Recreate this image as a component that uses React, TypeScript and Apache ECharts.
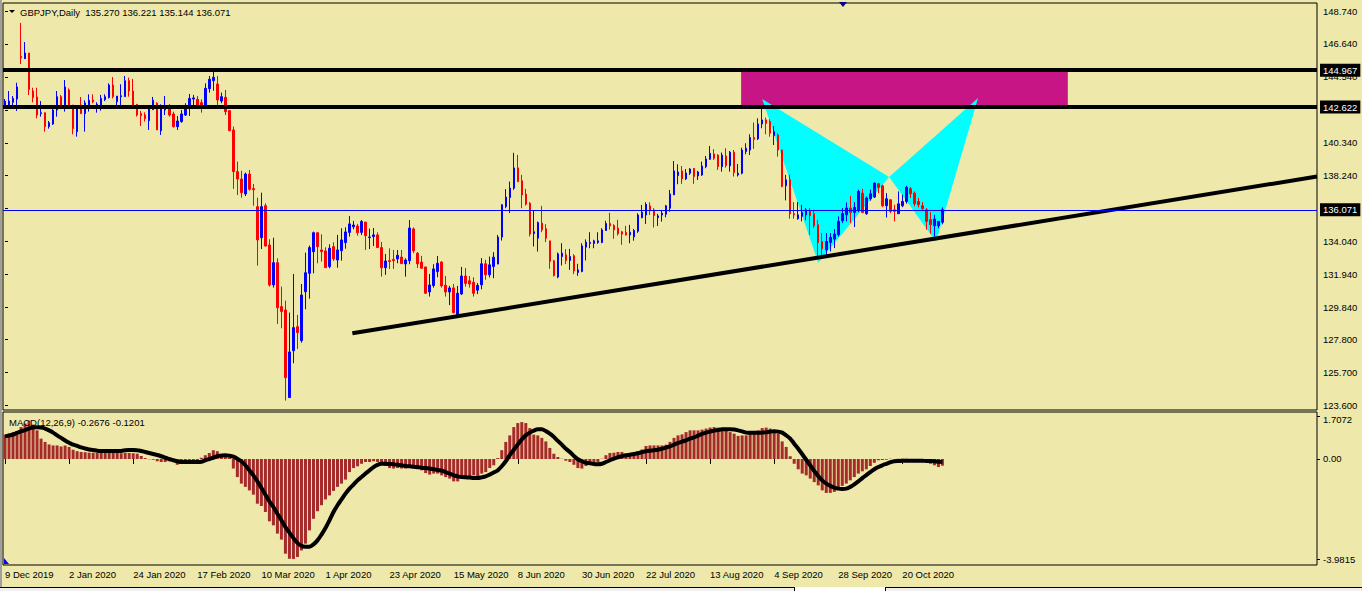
import React, { useEffect, useRef } from "react";
import * as echarts from "echarts";

const BG = "#EEE8AA";
const FONT = '"Liberation Sans", Arial, sans-serif';
const FONT_SIZE = 9.5;
const BULL = "#0000FF";
const BEAR = "#FF0000";
const HIST = "#A52A2A";
const ZONE = "#C71585";
const PATTERN = "#00FFFF";

const SYMBOL = "GBPJPY";
const TIMEFRAME = "Daily";
const START_DATE = "2019-12-09";
const HOLIDAYS = ["2019-12-25", "2020-01-01"];
const TOTAL_SLOTS = 328;
const LABEL_EVERY = 16;

const open = [
  142.75,142.75,142.92,143.13,145.85,145.70,146.06,143.64,143.26,142.20,
  142.26,141.37,141.54,142.43,143.28,142.75,143.71,142.75,141.05,142.75,
  142.20,142.75,143.07,142.71,142.75,143.09,143.22,144.02,142.96,143.28,
  143.28,144.30,143.64,142.79,142.20,142.11,141.75,142.45,142.86,141.11,
  142.43,142.54,142.18,141.37,141.69,142.11,142.69,143.13,143.11,142.90,
  142.75,143.79,144.30,144.09,143.00,143.24,142.39,141.16,138.50,138.03,
  137.08,138.35,137.42,136.27,134.29,136.33,133.83,131.28,132.70,129.90,
  129.69,124.10,127.09,128.62,127.73,130.85,132.02,133.40,134.61,133.51,
  133.45,132.45,133.72,132.87,133.47,133.98,134.63,134.99,135.04,134.63,
  135.29,134.30,134.36,134.47,133.66,132.38,132.83,132.91,132.94,133.06,
  132.62,132.83,134.85,133.30,132.74,132.43,130.83,131.24,132.13,132.74,
  131.26,130.83,131.09,129.26,130.71,131.85,131.55,131.45,130.95,131.29,
  132.63,131.93,132.46,132.61,134.33,136.28,136.85,137.45,138.74,137.92,
  137.07,136.49,134.56,134.26,135.22,134.86,134.09,132.82,131.78,133.09,
  133.20,132.84,133.14,132.07,132.14,133.69,133.92,133.92,133.99,133.99,
  134.75,135.20,135.07,134.90,134.67,134.62,134.47,134.35,134.70,135.57,
  135.74,136.32,136.06,135.57,135.74,135.79,136.17,137.02,138.25,138.55,
  138.04,138.40,138.70,138.23,138.29,138.82,139.29,139.63,139.56,138.82,
  139.50,138.87,139.74,138.29,138.40,139.78,139.88,140.67,140.59,141.54,
  141.80,141.69,140.80,140.84,139.88,137.60,137.98,135.82,135.50,135.65,
  135.75,136.03,135.82,135.12,134.05,133.52,133.99,134.20,134.48,135.37,
  135.75,136.18,135.90,136.03,137.13,135.82,136.77,136.88,137.73,137.60,
  136.33,136.71,136.07,135.82,136.33,136.60,137.41,137.13,136.60,136.33,
  136.07,135.44,135.05,135.05,135.27,
];

const high = [
  143.13,143.64,143.32,144.17,147.98,146.76,146.06,143.85,143.85,143.00,
  142.26,141.73,142.49,143.64,143.39,144.34,143.81,142.75,142.54,143.26,
  143.05,143.43,143.43,142.92,143.39,143.43,144.13,144.53,143.32,144.07,
  144.60,144.49,144.41,142.79,142.37,142.28,142.49,143.26,142.92,142.79,
  143.32,142.81,142.32,142.05,142.43,142.86,143.45,143.39,143.32,143.11,
  144.13,144.60,144.93,144.60,143.54,143.71,142.39,141.37,139.14,138.56,
  138.44,138.61,137.71,136.84,137.16,136.48,134.19,134.29,132.98,131.17,
  130.28,129.52,131.98,129.37,131.34,133.34,133.79,134.68,134.61,134.51,
  133.68,133.87,134.00,134.47,134.89,134.95,135.68,135.36,135.17,135.42,
  135.29,134.87,134.91,134.63,134.02,133.25,133.61,133.51,133.51,133.51,
  132.98,135.42,134.95,133.38,133.13,132.43,131.98,132.60,133.13,132.79,
  131.85,131.22,131.34,131.22,132.43,132.36,131.85,131.77,131.40,132.99,
  132.88,133.09,133.37,134.47,136.43,137.39,137.87,139.70,139.57,138.30,
  137.41,136.56,136.05,135.32,136.32,135.15,134.09,132.88,133.35,133.94,
  133.56,133.58,133.24,132.63,133.94,134.18,134.64,134.16,134.64,134.90,
  135.37,135.88,135.15,135.43,134.73,135.05,135.11,134.85,135.85,136.38,
  136.55,136.55,136.17,135.81,136.06,136.38,137.34,139.18,138.97,138.86,
  138.67,138.72,138.74,138.55,139.14,139.50,140.14,139.93,139.61,139.72,
  139.99,139.82,139.88,138.99,140.03,140.31,140.88,141.63,141.90,142.70,
  141.95,141.84,141.41,140.95,139.90,138.30,138.30,136.56,136.56,136.39,
  136.18,136.18,136.07,135.44,134.59,134.59,134.59,134.84,135.65,136.18,
  136.54,136.96,136.56,137.35,137.41,136.92,137.35,137.81,137.77,137.67,
  137.13,136.71,136.39,137.24,137.03,137.60,137.52,137.24,136.82,136.56,
  136.18,135.92,135.75,135.33,136.221,
];

const low = [
  142.71,142.71,142.58,142.37,145.36,145.70,143.39,142.92,141.90,142.01,
  141.05,141.24,141.48,142.01,142.75,142.33,142.75,140.88,140.73,142.20,
  141.05,142.33,142.86,142.26,142.39,143.00,143.17,143.17,142.71,142.75,
  143.28,143.28,142.64,142.01,141.41,141.69,141.16,142.45,141.16,140.84,
  142.11,142.01,141.31,141.16,141.62,142.05,142.05,142.75,142.60,142.26,
  142.75,143.54,143.66,142.75,142.86,142.11,141.11,137.40,137.01,136.84,
  136.95,137.29,136.33,132.51,133.57,133.72,131.17,131.11,128.79,128.52,
  123.91,124.10,126.29,127.20,127.60,129.73,130.41,132.02,132.66,132.77,
  132.38,132.34,132.81,132.38,132.83,133.59,134.36,134.83,134.42,134.46,
  133.51,133.57,133.76,133.66,131.81,131.92,132.30,132.30,132.66,132.62,
  131.81,132.60,133.30,132.36,132.34,130.71,130.54,131.11,131.77,131.11,
  130.54,130.00,129.47,129.20,130.64,131.17,131.11,130.54,130.70,131.00,
  131.61,131.76,131.71,132.61,134.11,136.17,135.86,137.34,137.83,136.17,
  136.34,134.37,133.73,133.41,134.64,134.01,132.31,131.82,131.71,132.52,
  132.61,132.24,131.97,131.86,132.09,132.84,133.62,133.62,133.90,133.94,
  134.73,134.81,134.22,134.43,133.84,134.43,133.94,134.10,134.60,135.53,
  135.17,135.74,134.94,135.04,135.32,135.59,135.95,137.02,137.70,137.72,
  137.97,138.29,137.72,137.97,138.23,138.72,139.25,139.25,138.61,138.50,
  138.76,138.50,138.19,138.19,138.33,139.61,139.56,139.95,140.52,141.27,
  140.88,140.73,140.20,139.46,137.50,136.67,135.50,135.50,135.44,135.33,
  135.39,134.48,134.90,133.10,133.10,133.10,133.42,133.63,134.37,135.22,
  135.33,135.22,134.97,135.92,135.86,135.75,136.65,136.82,137.13,136.24,
  135.58,135.86,135.33,135.82,136.24,136.46,136.82,136.29,136.22,136.07,
  134.80,134.54,134.37,134.90,135.144,
];

const close = [
  143.00,143.00,143.17,143.90,145.75,146.06,143.73,143.22,142.11,142.26,
  141.37,141.62,142.43,143.28,142.75,143.90,142.75,141.24,142.54,142.20,
  142.88,143.05,142.96,142.79,143.17,143.28,144.02,143.28,143.32,143.34,
  144.30,143.64,142.64,142.11,142.07,141.88,142.49,143.05,141.16,142.64,
  142.64,142.11,141.37,141.73,142.18,142.49,143.17,143.20,142.69,142.75,
  143.81,144.39,144.51,143.07,143.28,142.32,141.11,138.50,138.03,137.16,
  138.35,137.38,137.35,134.15,136.27,133.76,131.28,132.70,129.83,129.58,
  125.37,127.01,128.56,128.24,130.64,132.06,133.66,134.61,133.72,133.40,
  132.38,133.62,132.94,133.51,134.15,134.66,135.17,135.10,134.61,135.32,
  134.42,134.34,134.47,133.66,132.38,132.81,132.77,132.83,133.17,132.64,
  132.87,134.91,133.45,132.62,132.34,130.75,131.28,132.30,132.66,131.22,
  130.83,131.09,129.52,130.75,131.85,131.38,131.34,130.75,131.25,132.63,
  131.93,132.56,133.05,134.33,136.39,136.88,137.45,138.74,137.87,137.02,
  136.43,134.52,134.67,135.26,134.79,134.26,132.78,131.88,133.26,133.31,
  132.84,133.09,132.18,132.24,133.77,134.01,133.99,134.09,134.09,134.79,
  135.20,135.05,134.79,134.54,134.52,134.47,134.64,134.75,135.74,135.91,
  136.42,136.00,135.70,135.68,135.85,136.32,137.08,138.55,138.48,138.04,
  138.42,138.67,138.19,138.48,138.86,139.31,139.67,139.35,138.82,139.56,
  138.89,139.74,138.44,138.40,139.88,139.99,140.67,140.56,141.54,141.80,
  141.58,140.95,141.05,139.88,137.56,137.98,135.82,135.75,135.75,135.90,
  136.07,135.69,135.05,133.99,133.59,134.05,134.31,134.52,135.33,135.82,
  136.18,135.90,136.22,137.24,135.90,136.82,137.09,137.77,137.50,136.33,
  136.77,135.97,135.97,136.45,136.60,137.50,137.09,136.46,136.39,136.14,
  135.33,135.12,135.48,135.33,136.071,
];

const macdHist = [
  0.97,1.02,1.07,1.11,1.27,1.41,1.52,1.37,1.14,0.81,
  0.68,0.58,0.54,0.54,0.50,0.54,0.48,0.37,0.31,0.28,
  0.27,0.25,0.25,0.24,0.24,0.24,0.25,0.25,0.24,0.23,
  0.24,0.24,0.23,0.21,0.12,0.04,-0.01,-0.03,-0.09,-0.12,
  -0.12,-0.09,-0.12,-0.23,-0.19,-0.13,-0.09,-0.07,-0.04,0.05,
  0.15,0.24,0.35,0.31,0.21,0.15,0.04,-0.38,-0.72,-0.98,
  -1.11,-1.25,-1.42,-1.78,-1.87,-2.11,-2.48,-2.64,-2.97,-3.21,
  -3.77,-3.97,-3.98,-3.90,-3.64,-3.37,-2.84,-2.38,-2.08,-1.84,
  -1.61,-1.45,-1.27,-1.11,-0.98,-0.82,-0.52,-0.36,-0.29,-0.19,
  -0.12,-0.12,-0.09,-0.12,-0.19,-0.28,-0.36,-0.38,-0.36,-0.38,
  -0.38,-0.35,-0.36,-0.41,-0.45,-0.56,-0.62,-0.58,-0.58,-0.65,
  -0.72,-0.78,-0.89,-0.89,-0.78,-0.72,-0.69,-0.65,-0.68,-0.58,
  -0.52,-0.36,-0.25,0.04,0.35,0.68,0.94,1.27,1.43,1.47,
  1.43,1.23,0.97,0.94,0.84,0.70,0.44,0.21,0.08,0.01,
  -0.07,-0.12,-0.23,-0.36,-0.38,-0.28,-0.19,-0.12,-0.12,0.01,
  0.15,0.24,0.25,0.28,0.28,0.21,0.17,0.21,0.31,0.38,
  0.52,0.54,0.54,0.54,0.54,0.57,0.68,0.84,0.94,0.98,
  1.07,1.14,1.14,1.14,1.17,1.21,1.25,1.27,1.25,1.21,
  1.14,1.07,1.01,0.92,0.94,0.94,1.01,1.10,1.14,1.23,
  1.25,1.21,1.10,1.01,0.70,0.48,0.11,-0.19,-0.41,-0.58,
  -0.65,-0.78,-0.92,-1.05,-1.25,-1.35,-1.35,-1.31,-1.18,-1.07,
  -0.98,-0.85,-0.72,-0.58,-0.49,-0.41,-0.28,-0.15,-0.05,-0.04,
  -0.03,0.01,-0.01,0.01,0.01,0.01,0.0,0.0,0.0,0.0,
  -0.01,-0.19,-0.25,-0.32,-0.2676,
];

const macdSignal = [
  0.90,0.93,0.97,1.04,1.10,1.15,1.21,1.25,1.26,1.25,
  1.21,1.14,1.05,0.94,0.84,0.74,0.65,0.57,0.52,0.46,
  0.42,0.38,0.36,0.33,0.32,0.32,0.32,0.32,0.32,0.32,
  0.35,0.36,0.36,0.35,0.32,0.28,0.24,0.20,0.16,0.11,
  0.05,0.00,-0.05,-0.09,-0.12,-0.12,-0.12,-0.12,-0.12,-0.11,
  -0.05,0.00,0.05,0.11,0.13,0.15,0.13,0.09,0.01,-0.09,
  -0.25,-0.45,-0.65,-0.89,-1.15,-1.42,-1.69,-1.91,-2.18,-2.44,
  -2.71,-2.93,-3.15,-3.34,-3.46,-3.49,-3.49,-3.40,-3.24,-3.01,
  -2.75,-2.44,-2.11,-1.84,-1.61,-1.38,-1.18,-1.02,-0.85,-0.72,
  -0.58,-0.45,-0.32,-0.23,-0.19,-0.19,-0.20,-0.21,-0.23,-0.25,
  -0.28,-0.29,-0.31,-0.32,-0.35,-0.36,-0.38,-0.41,-0.44,-0.46,
  -0.52,-0.58,-0.65,-0.69,-0.72,-0.73,-0.74,-0.76,-0.76,-0.73,
  -0.69,-0.62,-0.54,-0.45,-0.29,-0.09,0.15,0.37,0.58,0.78,
  0.94,1.05,1.13,1.18,1.18,1.11,1.01,0.88,0.72,0.57,
  0.41,0.28,0.12,-0.01,-0.09,-0.15,-0.17,-0.20,-0.21,-0.19,
  -0.12,-0.05,0.01,0.07,0.11,0.15,0.17,0.20,0.23,0.27,
  0.31,0.33,0.35,0.37,0.41,0.45,0.50,0.57,0.64,0.69,
  0.74,0.81,0.86,0.93,1.00,1.05,1.09,1.13,1.15,1.18,
  1.18,1.18,1.17,1.14,1.10,1.05,1.04,1.04,1.04,1.05,
  1.06,1.09,1.10,1.09,1.05,0.94,0.81,0.61,0.41,0.19,
  -0.03,-0.25,-0.48,-0.68,-0.85,-0.98,-1.07,-1.14,-1.18,-1.19,
  -1.18,-1.11,-1.01,-0.89,-0.76,-0.64,-0.52,-0.41,-0.32,-0.25,
  -0.19,-0.13,-0.09,-0.08,-0.07,-0.07,-0.07,-0.07,-0.07,-0.07,
  -0.08,-0.08,-0.09,-0.11,-0.1201,
];

const priceTicks = [148.74, 146.64, 144.54, 142.44, 140.34, 138.24, 136.14, 134.04, 131.94, 129.84, 127.8, 125.7, 123.6];
const priceRange = [123.31, 149.25];
const macdTicks = [1.7072, 0, -3.9815];
const macdTickLabels = ["1.7072", "0.00", "-3.9815"];
const macdRange = [-4.22, 1.871];

const levels = [144.967, 142.622];
const bidPrice = 136.071;
const zoneCorners = [183.75, 144.967, 265.3, 142.622];
const trendStart = [86.7, 128.2];
const trendEnd = [327.5, 138.19];
const pointX = [189, 143.13];
const pointA = [203, 132.7];
const pointB = [220.7, 138.16];
const pointC = [232.4, 134.04];
const pointD = [242.9, 143.2];

const MONTHS = ["Jan", "Feb", "Mar", "Apr", "May", "Jun", "Jul", "Aug", "Sep", "Oct", "Nov", "Dec"];

function buildDates(start: string, count: number, holidays: string[]): string[] {
  const out: string[] = [];
  const d = new Date(start + "T00:00:00Z");
  while (out.length < count) {
    const wd = d.getUTCDay();
    const iso = d.toISOString().slice(0, 10);
    if (wd !== 0 && wd !== 6 && holidays.indexOf(iso) < 0) {
      out.push(`${d.getUTCDate()} ${MONTHS[d.getUTCMonth()]} ${d.getUTCFullYear()}`);
    }
    d.setUTCDate(d.getUTCDate() + 1);
  }
  return out;
}

const categories = buildDates(START_DATE, TOTAL_SLOTS, HOLIDAYS);

export default function App() {
  const ref = useRef<HTMLDivElement>(null);

  useEffect(() => {
    if (!ref.current) return;
    const chart = echarts.init(ref.current, undefined, { renderer: "svg" });
    const last = open.length - 1;
    const candleData = open.map((o, i) => [o, close[i], low[i], high[i]]);
    const showIdx = (i: number) => i % LABEL_EVERY === 0 && i <= last;
    const textBase = { color: "#000", fontSize: FONT_SIZE, fontFamily: FONT };

    const priceTitle = `${SYMBOL},${TIMEFRAME}  ${open[last].toFixed(3)} ${high[last].toFixed(3)} ${low[last].toFixed(3)} ${close[last].toFixed(3)}`;
    const macdTitle = `MACD(12,26,9) ${macdHist[last].toFixed(4)} ${macdSignal[last].toFixed(4)}`;

    const levelLabel = {
      show: true,
      position: "end",
      distance: 3,
      formatter: "{b}",
      color: "#fff",
      backgroundColor: "#000",
      padding: [2, 3, 1, 3],
      fontSize: FONT_SIZE,
      fontFamily: FONT,
    };

    const option: any = {
      animation: false,
      backgroundColor: BG,
      textStyle: { fontFamily: FONT },
      grid: [
        { left: 3, top: 3, width: 1314, height: 407, show: true, borderColor: "#000", borderWidth: 1 },
        { left: 3, top: 412, width: 1314, height: 153, show: true, borderColor: "#000", borderWidth: 1 },
      ],
      xAxis: [
        { type: "category", gridIndex: 0, data: categories, boundaryGap: true, show: false },
        { type: "value", gridIndex: 0, min: -0.5, max: TOTAL_SLOTS - 0.5, show: false },
        {
          type: "category",
          gridIndex: 1,
          data: categories,
          boundaryGap: true,
          axisLine: { show: false },
          axisTick: { show: true, alignWithLabel: true, interval: showIdx, length: 5, lineStyle: { color: "#000" } },
          axisLabel: { ...textBase, interval: showIdx, align: "left", margin: 4 },
          splitLine: { show: false },
        },
      ],
      yAxis: [
        {
          type: "value",
          gridIndex: 0,
          position: "right",
          min: priceRange[0],
          max: priceRange[1],
          splitLine: { show: false },
          axisLine: { show: false },
          axisTick: { show: true, length: 3, customValues: priceTicks, lineStyle: { color: "#000" } },
          axisLabel: { ...textBase, customValues: priceTicks, margin: 6, formatter: (v: number) => v.toFixed(3) },
        },
        {
          type: "value",
          gridIndex: 1,
          position: "right",
          min: macdRange[0],
          max: macdRange[1],
          splitLine: { show: false },
          axisLine: { show: false },
          axisTick: { show: true, length: 3, customValues: macdTicks, lineStyle: { color: "#000" } },
          axisLabel: {
            ...textBase,
            customValues: macdTicks,
            margin: 6,
            formatter: (v: number) => {
              let idx = 0;
              macdTicks.forEach((t, k) => { if (Math.abs(t - v) < 1e-6) idx = k; });
              const s = macdTickLabels[idx];
              return idx === 0 ? `{top|${s}}` : s;
            },
            rich: { top: { ...textBase, padding: [7, 0, 0, 0] } },
          },
        },
      ],
      series: [
        {
          type: "custom",
          name: "zone",
          xAxisIndex: 1,
          yAxisIndex: 0,
          z: 1,
          silent: true,
          dimensions: ["x1", "y1", "x2", "y2"],
          encode: { x: [0, 2], y: [1, 3] },
          data: [zoneCorners],
          renderItem: (_p: any, api: any) => {
            const a = api.coord([api.value(0), api.value(1)]);
            const b = api.coord([api.value(2), api.value(3)]);
            return { type: "rect", shape: { x: a[0], y: a[1], width: b[0] - a[0], height: b[1] - a[1] }, style: { fill: ZONE } };
          },
        },
        {
          type: "custom",
          name: "butterfly",
          xAxisIndex: 1,
          yAxisIndex: 0,
          z: 1,
          silent: true,
          dimensions: ["x1", "y1", "x2", "y2", "x3", "y3"],
          encode: { x: [0, 2, 4], y: [1, 3, 5] },
          data: [
            [...pointX, ...pointA, ...pointB],
            [...pointB, ...pointC, ...pointD],
          ],
          renderItem: (_p: any, api: any) => {
            const pts = [0, 1, 2].map((k) => api.coord([api.value(k * 2), api.value(k * 2 + 1)]));
            return { type: "polygon", shape: { points: pts }, style: { fill: PATTERN } };
          },
        },
        {
          type: "line",
          name: "bid",
          xAxisIndex: 0,
          yAxisIndex: 0,
          z: 1,
          data: [],
          markLine: {
            silent: true,
            symbol: ["none", "none"],
            lineStyle: { color: "#0000FF", width: 1, type: "solid" },
            label: levelLabel,
            emphasis: { disabled: true },
            data: [{ yAxis: bidPrice, name: bidPrice.toFixed(3) }],
          },
        },
        {
          type: "candlestick",
          name: SYMBOL,
          xAxisIndex: 0,
          yAxisIndex: 0,
          z: 2,
          barWidth: 2,
          data: candleData,
          itemStyle: { color: BULL, color0: BEAR, borderColor: BULL, borderColor0: BEAR, borderWidth: 1 },
        },
        {
          type: "line",
          name: "trend",
          xAxisIndex: 1,
          yAxisIndex: 0,
          z: 3,
          symbol: "none",
          silent: true,
          data: [trendStart, trendEnd],
          lineStyle: { color: "#000", width: 4 },
        },
        {
          type: "line",
          name: "levels",
          xAxisIndex: 0,
          yAxisIndex: 0,
          z: 4,
          data: [],
          markLine: {
            silent: true,
            symbol: ["none", "none"],
            lineStyle: { color: "#000", width: 4, type: "solid" },
            label: levelLabel,
            emphasis: { disabled: true },
            data: levels.map((v) => ({ yAxis: v, name: v.toFixed(3) })),
          },
        },
        {
          type: "bar",
          name: "MACD",
          xAxisIndex: 2,
          yAxisIndex: 1,
          barWidth: 3,
          data: macdHist,
          itemStyle: { color: HIST },
          silent: true,
        },
        {
          type: "line",
          name: "Signal",
          xAxisIndex: 2,
          yAxisIndex: 1,
          z: 3,
          symbol: "none",
          smooth: 0.3,
          data: macdSignal,
          lineStyle: { color: "#000", width: 4 },
          silent: true,
        },
      ],
      graphic: [
        { type: "rect", shape: { x: 0, y: 0, width: 2, height: 587 }, style: { fill: "#A0A0A0" }, silent: true },
        { type: "rect", shape: { x: 0, y: 587, width: 1362, height: 4 }, style: { fill: "#F0F0F0" }, silent: true },
        { type: "rect", shape: { x: 795, y: 587, width: 90, height: 4 }, style: { fill: "#FFFFFF" }, silent: true },
        { type: "line", shape: { x1: 0, y1: 587.5, x2: 794, y2: 587.5 }, style: { stroke: "#000", lineWidth: 1 }, silent: true },
        { type: "line", shape: { x1: 886, y1: 587.5, x2: 1362, y2: 587.5 }, style: { stroke: "#000", lineWidth: 1 }, silent: true },
        { type: "line", shape: { x1: 794.5, y1: 587, x2: 794.5, y2: 591 }, style: { stroke: "#000", lineWidth: 1 }, silent: true },
        { type: "line", shape: { x1: 885.5, y1: 587, x2: 885.5, y2: 591 }, style: { stroke: "#000", lineWidth: 1 }, silent: true },
        { type: "polygon", shape: { points: [[9, 10], [15, 10], [12, 13]] }, style: { fill: "#000" }, silent: true },
        { type: "polygon", shape: { points: [[839, 2], [847, 2], [843, 7]] }, style: { fill: "#00008B" }, silent: true },
        { type: "polygon", shape: { points: [[4, 558], [4, 564], [9, 564]] }, style: { fill: "#0000FF" }, silent: true },
        {
          type: "text",
          x: 20,
          y: 12,
          z: 10,
          style: { text: priceTitle, fill: "#000", fontSize: FONT_SIZE, fontFamily: FONT, verticalAlign: "middle" },
          silent: true,
        },
        {
          type: "text",
          x: 9,
          y: 422,
          z: 10,
          style: { text: macdTitle, fill: "#000", fontSize: FONT_SIZE, fontFamily: FONT, verticalAlign: "middle" },
          silent: true,
        },
      ],
    };

    chart.setOption(option);
    return () => chart.dispose();
  }, []);

  return <div ref={ref} style={{ position: "fixed", left: 0, top: 0, width: 1362, height: 591 }} />;
}
